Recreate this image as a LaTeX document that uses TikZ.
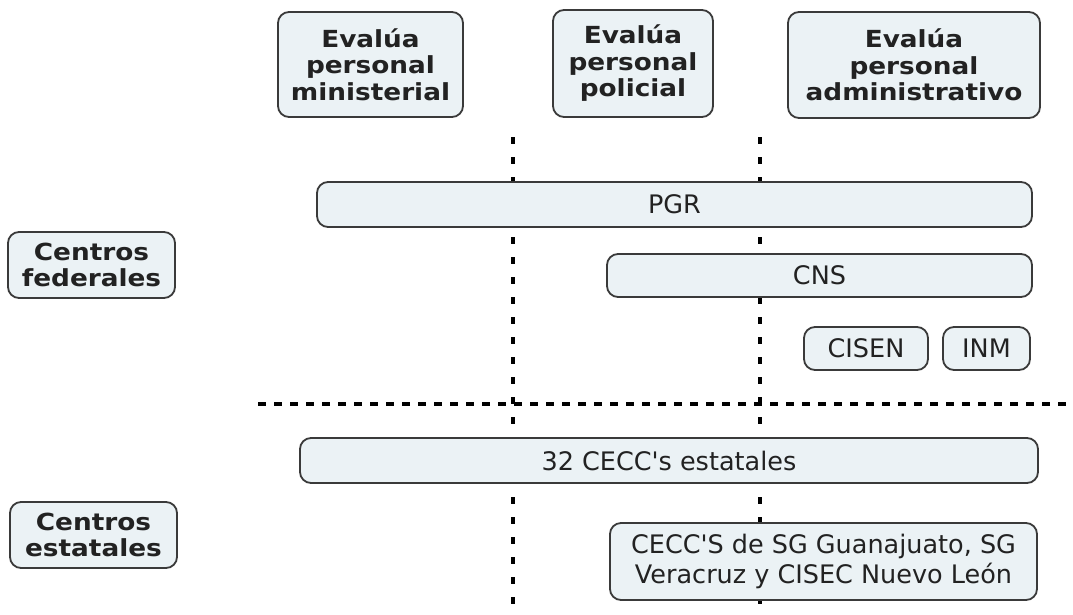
\documentclass[tikz,border=0pt]{standalone}
\usepackage{fontspec}
\newfontfamily\vfont{DejaVu Sans}[BoldFeatures={FakeStretch=1.12}]
\definecolor{boxfill}{HTML}{EBF2F5}
\definecolor{boxline}{HTML}{3A3A3A}
\definecolor{txt}{HTML}{222222}
\tikzset{
  box/.style={draw=boxline, fill=boxfill, rounded corners=11pt, line width=1.8pt,
    inner sep=0pt, align=center, text=txt},
  headbox/.style={box, font=\vfont\fontsize{23.5}{26.5}\selectfont\bfseries},
  plainbox/.style={box, font=\vfont\fontsize{25.5}{30}\selectfont},
  vdots/.style={line width=4.5pt, dash pattern=on 7pt off 13pt, black},
  hdots/.style={line width=4.5pt, dash pattern=on 8pt off 8pt, black}
}
\begin{document}
\begin{tikzpicture}[x=1pt,y=-1pt]
\useasboundingbox (0,0) rectangle (1073,614);
% dotted separators
\coordinate (v1t) at (513,137);
\coordinate (v1b) at (513,614);
\coordinate (v2t) at (760,137);
\coordinate (v2b) at (760,614);
\coordinate (hl) at (258,404);
\coordinate (hr) at (1073,404);
\draw[vdots] (v1t) -- (v1b);
\draw[vdots] (v2t) -- (v2b);
\draw[hdots] (hl) -- (hr);
% header boxes
\node[headbox, minimum width=185pt, minimum height=105pt] (e1) at (370.5,64.5) {Evalúa\\personal\\ministerial};
\node[headbox, minimum width=160pt, minimum height=107pt] (e2) at (633,63.5) {Evalúa\\personal\\policial};
\node[headbox, minimum width=252pt, minimum height=106pt] (e3) at (914,65) {Evalúa\\personal\\administrativo};
% row labels
\node[headbox, minimum width=167pt, minimum height=66pt] (cf) at (91.5,265) {Centros\\federales};
\node[headbox, minimum width=167pt, minimum height=66pt] (ce) at (93.5,535) {Centros\\estatales};
% federal centres
\node[plainbox, minimum width=715pt, minimum height=45pt] (pgr) at (674.5,204.5) {PGR};
\node[plainbox, minimum width=425pt, minimum height=43pt] (cns) at (819.5,275.5) {CNS};
\node[plainbox, minimum width=124pt, minimum height=43pt] (cisen) at (866,348.5) {CISEN};
\node[plainbox, minimum width=87pt, minimum height=43pt] (inm) at (986.5,348.5) {INM};
% state centres
\node[plainbox, minimum width=738pt, minimum height=45pt] (cecc) at (669,460.5) {32 CECC's estatales};
\node[plainbox, minimum width=427pt, minimum height=77pt] (sg) at (823.5,561.5) {CECC'S de SG Guanajuato, SG\\Veracruz y CISEC Nuevo León};
\end{tikzpicture}
\end{document}
